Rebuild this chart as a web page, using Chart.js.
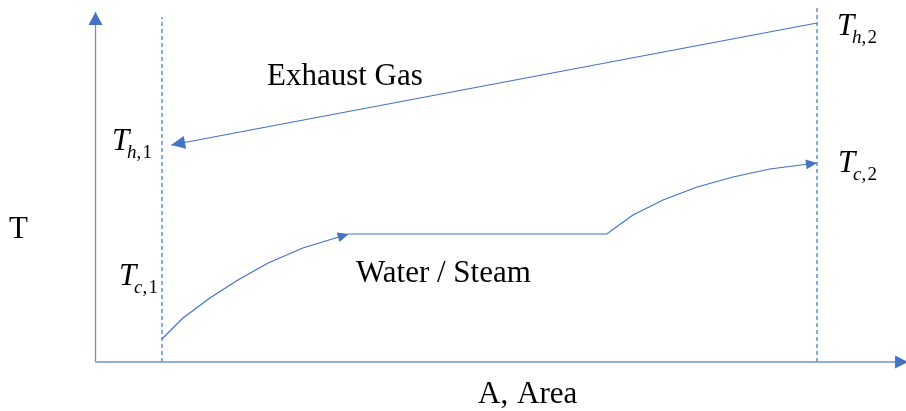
<!DOCTYPE html>
<html>
<head>
<meta charset="utf-8">
<script src="https://cdn.jsdelivr.net/npm/chart.js@4.4.1/dist/chart.umd.min.js"></script>
<style>
  body { margin: 0; background: #fff; }
  canvas { display: block; }
</style>
</head>
<body>
<canvas id="myChart" width="906" height="411"></canvas>
<script>
// A is normalised area (0 = inlet side, 1 = outlet side), T is temperature (arbitrary units)
const exhaustA = [1.0, 0.014];
const exhaustT = [339, 217];

const waterHeatA = [0, 0.032, 0.073, 0.116, 0.162, 0.215, 0.285];
const waterHeatT = [23, 44, 64, 82, 99, 114, 128];

const steamA = [0.285, 0.679, 0.719, 0.765, 0.817, 0.872, 0.928, 1.0];
const steamT = [128, 128, 147, 162, 175, 185, 193, 199];

const boundaryA = [0, 1];
const boundaryTop = [345, 357];

const axisA = [-0.1015, 1.139];
const axisTopT = 350;

const blue = '#4472C4';

function pts(xs, ys) {
  return xs.map((x, i) => ({ x: x, y: ys[i] }));
}

// arrow heads drawn at the end of marked datasets, pointing along the last segment
const arrowHeads = {
  id: 'arrowHeads',
  afterDatasetsDraw(chart) {
    const ctx = chart.ctx;
    chart.data.datasets.forEach((ds, i) => {
      if (!ds.arrow) return;
      const pts = chart.getDatasetMeta(i).data;
      const tip = pts[pts.length - 1];
      const prev = pts[pts.length - 2];
      let dx = tip.x - prev.x, dy = tip.y - prev.y;
      const len = Math.hypot(dx, dy);
      dx /= len; dy /= len;
      const L = ds.arrow.len, W = ds.arrow.width / 2;
      const bx = tip.x - dx * L, by = tip.y - dy * L;
      ctx.save();
      ctx.fillStyle = blue;
      ctx.beginPath();
      ctx.moveTo(tip.x, tip.y);
      ctx.lineTo(bx - dy * W, by + dx * W);
      ctx.lineTo(bx + dy * W, by - dx * W);
      ctx.closePath();
      ctx.fill();
      ctx.restore();
    });
  }
};

function subLabel(ctx, x, y, letter, num) {
  ctx.font = 'italic 31px "Liberation Serif"';
  ctx.fillText('T', x, y);
  ctx.font = 'italic 19px "Liberation Serif"';
  ctx.fillText(letter, x + 15, y + 8);
  const w = ctx.measureText(letter).width;
  ctx.font = '19px "Liberation Serif"';
  ctx.fillText(',', x + 15 + w, y + 8);
  ctx.fillText(num, x + 15 + w + 6, y + 8);
}

const labels = {
  id: 'labels',
  afterDraw(chart) {
    const ctx = chart.ctx;
    const xs = chart.scales.x, ys = chart.scales.y;
    const left = xs.getPixelForValue(boundaryA[0]);
    const right = xs.getPixelForValue(boundaryA[1]);
    ctx.save();
    ctx.fillStyle = '#000';
    ctx.textBaseline = 'alphabetic';
    ctx.font = '31px "Liberation Serif"';
    ctx.fillText('Exhaust Gas', 267, 85);
    ctx.fillText('Water / Steam', 356, 282);
    ctx.fillText('T', 9, 238);
    ctx.fillText('A,', 478, 403);
    ctx.fillText('Area', 517, 403);
    subLabel(ctx, left - 50, ys.getPixelForValue(exhaustT[1]) + 5, 'h', '1');
    subLabel(ctx, left - 43, 285, 'c', '1');
    subLabel(ctx, right + 20, ys.getPixelForValue(exhaustT[0]) + 12, 'h', '2');
    subLabel(ctx, right + 21, ys.getPixelForValue(steamT[steamT.length - 1]) + 9, 'c', '2');
    ctx.restore();
  }
};

const line = (data, extra) => Object.assign({
  data: data,
  borderColor: blue,
  borderWidth: 1.2,
  pointRadius: 0,
  fill: false,
  tension: 0
}, extra);

new Chart(document.getElementById('myChart'), {
  type: 'line',
  data: {
    datasets: [
      // axes
      line(pts([axisA[0], axisA[0]], [0, axisTopT]), { borderWidth: 1.3, borderColor: '#6a8fd4', arrow: { len: 13, width: 14 } }),
      line(pts(axisA, [0, 0]), { borderWidth: 1.3, borderColor: '#6a8fd4', arrow: { len: 13, width: 13 } }),
      // inlet / outlet boundaries
      line(pts([boundaryA[0], boundaryA[0]], [0, boundaryTop[0]]), { borderDash: [4, 3], borderWidth: 1.2 }),
      line(pts([boundaryA[1], boundaryA[1]], [0, boundaryTop[1]]), { borderDash: [4, 3], borderWidth: 1.2 }),
      // exhaust gas
      line(pts(exhaustA, exhaustT), { arrow: { len: 14, width: 13 } }),
      // water heating and steam
      line(pts(waterHeatA, waterHeatT), { arrow: { len: 11, width: 10 } }),
      line(pts(steamA, steamT), { arrow: { len: 11, width: 10 } })
    ]
  },
  options: {
    responsive: false,
    animation: false,
    layout: { padding: 0 },
    plugins: { legend: { display: false }, tooltip: { enabled: false } },
    scales: {
      x: { type: 'linear', display: false, min: -162 / 655, max: 744 / 655 },
      y: { type: 'linear', display: false, min: -49, max: 362 }
    }
  },
  plugins: [arrowHeads, labels]
});
</script>
</body>
</html>
